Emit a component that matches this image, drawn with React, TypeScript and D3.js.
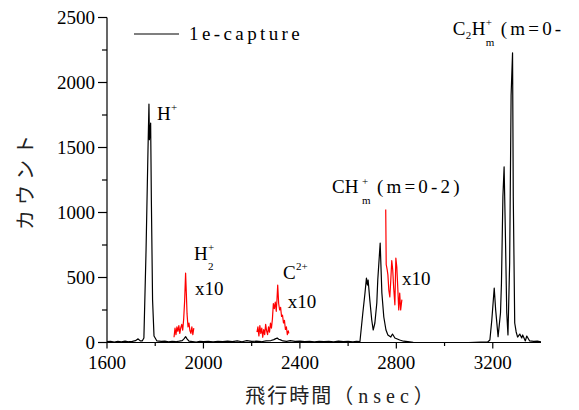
import React from "react";
import * as d3 from "d3";

// Flight time (ns) and counts for the 1e-capture spectrum
const tofBlack = [
  1600, 1615, 1630, 1645, 1660, 1675, 1690, 1705, 1718, 1729, 1738, 1746, 1753, 1762, 1770, 1774, 1776, 1781, 1784, 1789, 1795, 1807,
  1825, 1840, 1855, 1870, 1885, 1900, 1912, 1920, 1926, 1932, 1940, 1955, 1970, 1985, 2000, 2020, 2040, 2060, 2080, 2100,
  2120, 2140, 2160, 2180, 2200, 2220, 2240, 2260, 2280, 2292, 2300, 2306, 2312, 2320, 2330, 2345, 2360, 2380, 2400, 2420,
  2440, 2460, 2480, 2500, 2520, 2540, 2560, 2580, 2600, 2620, 2635, 2649, 2661, 2670, 2676, 2680, 2683, 2690, 2698, 2704,
  2711, 2719, 2723, 2733, 2740, 2748, 2757, 2765, 2777, 2784, 2794, 2814, 2830, 2848, 2870, 2900, 3100, 3150, 3179, 3188,
  3196, 3206, 3212, 3222, 3232, 3236, 3242, 3247, 3252, 3258, 3263, 3270, 3276, 3282, 3285, 3291, 3297, 3303, 3312, 3320,
  3324, 3335, 3341, 3353, 3370, 3385, 3400,
];
const countBlack = [
  6, 9, 4, 8, 5, 10, 6, 9, 14, 28, 12, 12, 35, 711, 1480, 1834, 1560, 1688, 1096, 327, 50, 12,
  8, 10, 5, 9, 6, 10, 15, 30, 45, 28, 10, 7, 4, 9, 6, 8, 5, 9, 6, 10,
  7, 12, 6, 14, 8, 10, 6, 12, 15, 22, 30, 34, 25, 20, 12, 9, 14, 8, 10, 6,
  9, 5, 8, 6, 9, 5, 10, 6, 8, 5, 9, 6, 227, 381, 496, 442, 481, 327, 173, 96,
  150, 304, 481, 765, 381, 196, 96, 58, 42, 65, 35, 19, 10, 6, 2, 0, 0, 3, 4, 19,
  173, 419, 250, 45, 227, 458, 1121, 1352, 865, 227, 58, 611, 1903, 2229, 1121, 150, 81, 42, 65, 35,
  58, 12, 50, 12, 8, 10, 6,
];

// Magnified (x10) segments around the weak peaks
const tofH2 = [1878, 1882, 1886, 1890, 1894, 1898, 1902, 1906, 1910, 1914, 1918, 1922, 1926, 1929, 1932, 1936, 1940, 1944, 1948, 1952, 1956, 1960];
const countH2 = [40, 110, 60, 120, 85, 130, 70, 115, 140, 95, 180, 320, 534, 380, 220, 120, 150, 90, 70, 120, 60, 110];

const tofC2 = [2222, 2226, 2230, 2234, 2238, 2242, 2246, 2250, 2254, 2258, 2262, 2266, 2270, 2274, 2278, 2282, 2286, 2290, 2294, 2298, 2302, 2305, 2308, 2312, 2316, 2320, 2324, 2328, 2332, 2336, 2340, 2344, 2348, 2352, 2354];
const countC2 = [80, 120, 50, 130, 70, 110, 40, 100, 60, 140, 90, 60, 120, 80, 150, 110, 180, 300, 260, 310, 240, 330, 442, 300, 250, 270, 200, 210, 150, 170, 100, 120, 60, 90, 70];

const tofCH = [2756, 2758, 2762, 2765, 2769, 2773, 2777, 2781, 2785, 2789, 2794, 2798, 2802, 2806, 2810, 2814, 2818, 2823];
const countCH = [1023, 600, 560, 520, 400, 350, 480, 630, 560, 420, 290, 650, 580, 420, 250, 380, 250, 330];

const xTicks = [1600, 2000, 2400, 2800, 3200];
const xMinor = [1800, 2200, 2600, 3000];
const yTicks = [0, 500, 1000, 1500, 2000, 2500];
const yMinor = [250, 750, 1250, 1750, 2250];

const W = 579;
const H = 410;
const serif = "'Liberation Serif', 'Times New Roman', serif";
const cjk = "'Liberation Serif', 'Noto Sans CJK JP', serif";

export default function App() {
  const x = d3.scaleLinear().domain([1600, 3400]).range([107, 541]);
  const y = d3.scaleLinear().domain([0, 2500]).range([342.5, 17.5]);

  const line = d3
    .line<[number, number]>()
    .x((d) => x(d[0]))
    .y((d) => y(d[1]));

  const zip = (a: number[], b: number[]) => a.map((v, i) => [v, b[i]] as [number, number]);

  const black = line(zip(tofBlack, countBlack)) || "";
  const reds = [zip(tofH2, countH2), zip(tofC2, countC2), zip(tofCH, countCH)].map((s) => line(s) || "");

  const x0 = x.range()[0];
  const x1 = x.range()[1];
  const y0 = y.range()[0];

  const fs = 19;
  const sup = 11;

  return (
    <svg
      width={W}
      height={H}
      style={{ position: "absolute", left: 0, top: 0, background: "#fff" }}
      fontFamily={serif}
    >
      {/* spectrum */}
      <path d={black} fill="none" stroke="#000" strokeWidth={1.2} strokeLinejoin="round" />
      {reds.map((d, i) => (
        <path key={i} d={d} fill="none" stroke="#ff0000" strokeWidth={1.2} strokeLinejoin="round" />
      ))}

      {/* axes */}
      <line x1={x0} x2={x1} y1={y0} y2={y0} stroke="#000" strokeWidth={1.2} />
      <line x1={x0} x2={x0} y1={y0} y2={y.range()[1]} stroke="#000" strokeWidth={1.2} />
      {xTicks.map((t) => (
        <g key={t}>
          <line x1={x(t)} x2={x(t)} y1={y0} y2={y0 + 6} stroke="#000" strokeWidth={1.2} />
          <text x={x(t)} y={y0 + 26} textAnchor="middle" fontSize={fs}>
            {t}
          </text>
        </g>
      ))}
      {xMinor.map((t) => (
        <line key={t} x1={x(t)} x2={x(t)} y1={y0} y2={y0 + 3.5} stroke="#000" strokeWidth={1.2} />
      ))}
      {yTicks.map((t) => (
        <g key={t}>
          <line x1={x0 - 9} x2={x0} y1={y(t)} y2={y(t)} stroke="#000" strokeWidth={1.2} />
          <text x={x0 - 12} y={y(t) + 6.5} textAnchor="end" fontSize={fs}>
            {t}
          </text>
        </g>
      ))}
      {yMinor.map((t) => (
        <line key={t} x1={x0 - 5} x2={x0} y1={y(t)} y2={y(t)} stroke="#000" strokeWidth={1.2} />
      ))}

      {/* axis titles */}
      <text
        transform={`translate(33, 180) rotate(-90)`}
        textAnchor="middle"
        fontSize={20}
        fontFamily={cjk}
        letterSpacing={5}
        fill="#222"
      >
        カウント
      </text>
      <text x={342} y={403} textAnchor="middle" fontSize={20} fontFamily={cjk} fill="#222" letterSpacing={2}>
        飛行時間<tspan letterSpacing={5}>（nsec）</tspan>
      </text>

      {/* legend */}
      <line x1={134} x2={179} y1={34} y2={34} stroke="#000" strokeWidth={1.2} />
      <text x={189} y={40} fontSize={fs} letterSpacing={3.4}>
        1e-capture
      </text>

      {/* peak labels */}
      <g fontSize={fs}>
        <text x={x(1807)} y={y(1711)}>H</text>
        <text x={x(1807) + 14} y={y(1711) - 9} fontSize={sup}>+</text>

        <text x={x(1961)} y={y(634)}>H</text>
        <text x={x(1961) + 14} y={y(634) - 9} fontSize={sup}>+</text>
        <text x={x(1961) + 14} y={y(634) + 10} fontSize={sup}>2</text>
        <text x={x(1965)} y={y(365)}>x10</text>

        <text x={x(2330)} y={y(488)}>C</text>
        <text x={x(2330) + 13} y={y(488) - 9} fontSize={sup}>2+</text>
        <text x={x(2350)} y={y(265)}>x10</text>

        <text x={x(2533)} y={y(1150)}>CH</text>
        <text x={x(2533) + 30} y={y(1150) - 8} fontSize={sup}>+</text>
        <text x={x(2533) + 30} y={y(1150) + 11} fontSize={sup}>m</text>
        <text x={x(2533) + 45} y={y(1150)} letterSpacing={3.2}>(m=0-2)</text>
        <text x={x(2823)} y={y(442)}>x10</text>

        <text x={x(3034)} y={y(2365)}>C</text>
        <text x={x(3034) + 13} y={y(2365) + 4} fontSize={sup}>2</text>
        <text x={x(3034) + 19} y={y(2365)}>H</text>
        <text x={x(3034) + 33} y={y(2365) - 9} fontSize={sup}>+</text>
        <text x={x(3034) + 33} y={y(2365) + 11} fontSize={sup}>m</text>
        <text x={x(3034) + 48} y={y(2365)} letterSpacing={3.2}>(m=0-</text>
      </g>
    </svg>
  );
}
